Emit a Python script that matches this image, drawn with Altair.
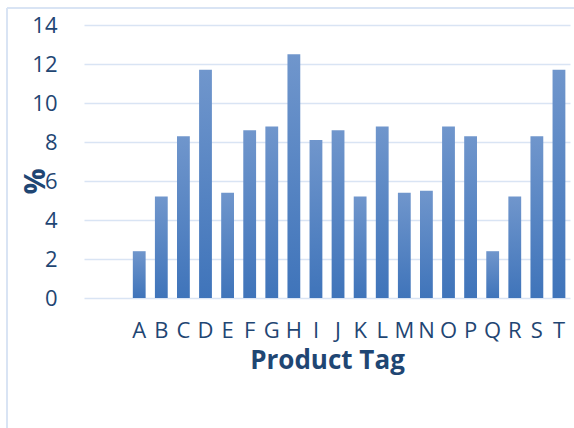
import altair as alt
import pandas as pd

# Product tags and their share (%)
tags = list("ABCDEFGHIJKLMNOPQRST")
shares = [2.4, 5.2, 8.3, 11.7, 5.4, 8.6, 8.8, 12.5, 8.1, 8.6,
          5.2, 8.8, 5.4, 5.5, 8.8, 8.3, 2.4, 5.2, 8.3, 11.7]
y_ticks = [0, 2, 4, 6, 8, 10, 12, 14]

# two empty leading slots on the category axis
x_domain = [" ", "  "] + tags

df = pd.DataFrame({"tag": tags, "share": shares})

TEXT = "#1F4673"
LINE = "#D9E4F4"
FONT = "Open Sans"

bars = alt.Chart(df).mark_bar(
    color=alt.Gradient(
        gradient="linear",
        stops=[alt.GradientStop(color="#7096CC", offset=0),
               alt.GradientStop(color="#3F74BA", offset=1)],
        x1=0, x2=0, y1=0, y2=1,
    )
).encode(
    x=alt.X("tag:N", sort=None,
            scale=alt.Scale(domain=x_domain, paddingInner=0.42, paddingOuter=0.21),
            axis=alt.Axis(title="Product Tag", labelAngle=0, labelOverlap=False,
                          labelPadding=22, labelFontSize=22, labelColor=TEXT,
                          labelFont=FONT, titleFont=FONT, titleFontSize=26,
                          titleFontWeight="bold", titleColor=TEXT,
                          titleY=70, titleBaseline="alphabetic",
                          domain=False, ticks=False, grid=False)),
    y=alt.Y("share:Q",
            scale=alt.Scale(domain=[0, 14], nice=False),
            axis=alt.Axis(title="%", values=y_ticks, labelPadding=27,
                          labelFontSize=22, labelColor=TEXT, labelFont=FONT,
                          titleFont=FONT, titleFontSize=29, titleFontWeight="bold",
                          titleColor=TEXT, titleX=-40, titleY=156,
                          titleBaseline="alphabetic", titleAngle=270,
                          domain=False, ticks=False, grid=True,
                          gridColor=LINE, gridWidth=1.6)),
)

# chart frame lines (left and top edge)
one = pd.DataFrame({"k": [0]})
frame_left = alt.Chart(one).mark_rule(color=LINE, strokeWidth=2).encode(
    x=alt.value(-77), y=alt.value(-17), y2=alt.value(403))
frame_top = alt.Chart(one).mark_rule(color=LINE, strokeWidth=2).encode(
    y=alt.value(-17), x=alt.value(-77), x2=alt.value(490))

chart = alt.layer(bars, frame_left, frame_top).properties(
    width=486, height=273,
    padding={"left": 84, "top": 25, "right": 4, "bottom": 130},
    autosize=alt.AutoSizeParams(type="none"),
    background="white",
).configure_view(stroke=None)

chart.save("out.html", embed_options={"renderer": "svg", "actions": False})
